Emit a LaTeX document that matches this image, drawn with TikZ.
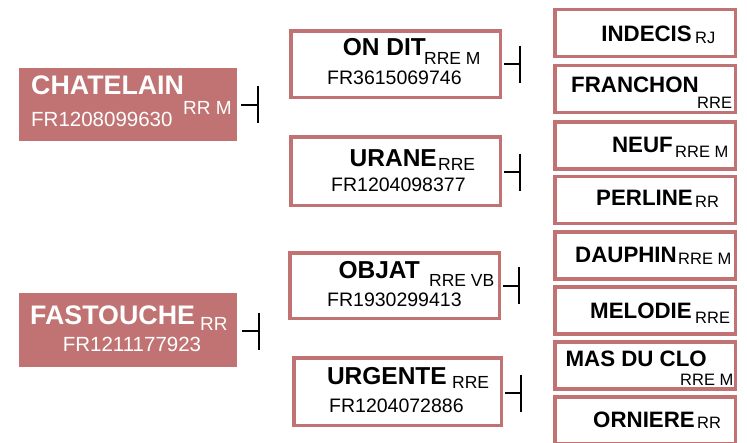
\documentclass[tikz,border=0pt]{standalone}
\usepackage{fontspec}
\setmainfont{Liberation Sans}
\usetikzlibrary{arrows.meta}
\usepackage{xcolor}
\definecolor{Rose}{HTML}{C07372}

\begin{document}
\begin{tikzpicture}[x=1pt,y=-1pt,
    sirebox/.style={fill=Rose,inner sep=0pt,minimum width=218pt,minimum height=73pt},
    parentbox/.style={draw=Rose,fill=white,line width=3.5pt,inner sep=0pt},
    grandbox/.style={parentbox,minimum width=180.5pt,minimum height=47pt},
    txt/.style={anchor=base west,inner sep=0pt},
    bigname/.style={txt,text=white,font=\bfseries\fontsize{26.8}{28}\selectfont},
    bigsup/.style={txt,text=white,font=\fontsize{19}{20}\selectfont},
    bigid/.style={txt,text=white,font=\fontsize{20.5}{22}\selectfont},
    midname/.style={txt,anchor=base east,font=\bfseries\fontsize{24.5}{26}\selectfont},
    midsup/.style={txt,font=\fontsize{17.5}{19}\selectfont},
    midid/.style={txt,font=\fontsize{19.5}{21}\selectfont},
    smallname/.style={txt,anchor=base east,font=\bfseries\fontsize{22.3}{24}\selectfont},
    smallsup/.style={txt,font=\fontsize{16.5}{18}\selectfont},
    tee/.style={line width=2pt,-{Bar[width=37pt]}}]
  \useasboundingbox (0,0) rectangle (747,442);

  % sires
  \node[sirebox] (chat) at (128,104.5) {};
  \node[sirebox,minimum height=74pt] (fast) at (128,330) {};
  \node[bigname] (chatN) at (31,94) {CHATELAIN};
  \node[bigsup] (chatS) at (183,114) {RR M};
  \node[bigid] (chatI) at (31,126) {FR1208099630};
  \node[bigname] (fastN) at (30,324) {FASTOUCHE};
  \node[bigsup] (fastS) at (200,330) {RR};
  \node[bigid,anchor=base] (fastI) at (132,351) {FR1211177923};

  % parents
  \node[parentbox,minimum width=209.5pt,minimum height=66.5pt] (ondit) at (395.5,64) {};
  \node[parentbox,minimum width=209.5pt,minimum height=68.5pt] (urane) at (395.5,171) {};
  \node[parentbox,minimum width=209.5pt,minimum height=65.5pt] (objat) at (394.5,285.5) {};
  \node[parentbox,minimum width=207.5pt,minimum height=67.5pt] (urge) at (397.5,391.5) {};
  \node[midname] (onditN) at (426,55) {ON DIT};
  \node[midsup] (onditS) at (424,64) {RRE M};
  \node[midid] (onditI) at (327,84) {FR3615069746};
  \node[midname] (uraneN) at (437,166) {URANE};
  \node[midsup] (uraneS) at (438,170) {RRE};
  \node[midid] (uraneI) at (331,191) {FR1204098377};
  \node[midname] (objatN) at (420,278) {OBJAT};
  \node[midsup] (objatS) at (429,286) {RRE VB};
  \node[midid] (objatI) at (327,306) {FR1930299413};
  \node[midname] (urgeN) at (447,384) {URGENTE};
  \node[midsup] (urgeS) at (452,388) {RRE};
  \node[midid] (urgeI) at (329,412) {FR1204072886};

  % grandparents
  \node[grandbox] (indec) at (645,33) {};
  \node[grandbox] (franc) at (645,89) {};
  \node[grandbox] (neuf) at (645,145.5) {};
  \node[grandbox] (perl) at (645,200) {};
  \node[grandbox] (daup) at (645,255.5) {};
  \node[grandbox] (melo) at (645,310.5) {};
  \node[grandbox] (masd) at (645,365.5) {};
  \node[grandbox] (orni) at (645,420.5) {};
  \node[smallname] (indecN) at (692,41) {INDECIS};
  \node[smallsup] (indecS) at (695,43) {RJ};
  \node[smallname] (francN) at (699,92) {FRANCHON};
  \node[smallsup] (francS) at (697,108) {RRE};
  \node[smallname] (neufN) at (673,152) {NEUF};
  \node[smallsup] (neufS) at (675,157) {RRE M};
  \node[smallname] (perlN) at (693,205) {PERLINE};
  \node[smallsup] (perlS) at (695,207) {RR};
  \node[smallname] (daupN) at (677,262) {DAUPHIN};
  \node[smallsup] (daupS) at (678,264) {RRE M};
  \node[smallname] (meloN) at (692,318) {MELODIE};
  \node[smallsup] (meloS) at (695,323) {RRE};
  \node[smallname] (masdN) at (707,366) {MAS DU CLO};
  \node[smallsup] (masdS) at (680,385) {RRE M};
  \node[smallname] (orniN) at (695,427) {ORNIERE};
  \node[smallsup] (orniS) at (697,428) {RR};

  % connectors
  \draw[tee] ([xshift=4pt]chat.east) -- ++(18,0) coordinate (chatT);
  \draw[tee] ([xshift=5pt,yshift=-1pt]fast.east) -- ++(18,0) coordinate (fastT);
  \draw[tee] ([xshift=1.75pt]ondit.east) -- ++(17,0) coordinate (onditT);
  \draw[tee] ([xshift=1.75pt,yshift=-1pt]urane.east) -- ++(17,0) coordinate (uraneT);
  \draw[tee] ([xshift=1.75pt]objat.east) -- ++(17,0) coordinate (objatT);
  \draw[tee] ([xshift=1.75pt,yshift=-1.5pt]urge.east) -- ++(17,0) coordinate (urgeT);
\end{tikzpicture}
\end{document}
